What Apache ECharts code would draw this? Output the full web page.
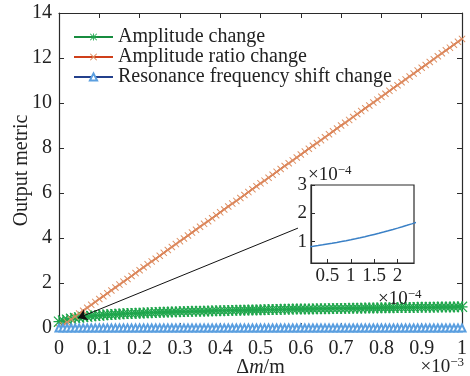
<!DOCTYPE html>
<html>
<head>
<meta charset="utf-8">
<script src="https://cdn.jsdelivr.net/npm/echarts@6/dist/echarts.min.js"></script>
<style>
  html, body { margin: 0; padding: 0; background: #fff; }
  #chart { width: 470px; height: 376px; }
</style>
</head>
<body>
<div id="chart"></div>
<script>
// delta m, in units of 1e-3
const dm = [
  0, 0.01, 0.02, 0.03, 0.04, 0.05, 0.06, 0.07, 0.08, 0.09,
  0.1, 0.11, 0.12, 0.13, 0.14, 0.15, 0.16, 0.17, 0.18, 0.19,
  0.2, 0.21, 0.22, 0.23, 0.24, 0.25, 0.26, 0.27, 0.28, 0.29,
  0.3, 0.31, 0.32, 0.33, 0.34, 0.35, 0.36, 0.37, 0.38, 0.39,
  0.4, 0.41, 0.42, 0.43, 0.44, 0.45, 0.46, 0.47, 0.48, 0.49,
  0.5, 0.51, 0.52, 0.53, 0.54, 0.55, 0.56, 0.57, 0.58, 0.59,
  0.6, 0.61, 0.62, 0.63, 0.64, 0.65, 0.66, 0.67, 0.68, 0.69,
  0.7, 0.71, 0.72, 0.73, 0.74, 0.75, 0.76, 0.77, 0.78, 0.79,
  0.8, 0.81, 0.82, 0.83, 0.84, 0.85, 0.86, 0.87, 0.88, 0.89,
  0.9, 0.91, 0.92, 0.93, 0.94, 0.95, 0.96, 0.97, 0.98, 0.99,
  1
];

const amplitudeChange = [
  0.28, 0.33, 0.37, 0.41, 0.44, 0.47, 0.49, 0.51, 0.53, 0.55,
  0.56, 0.58, 0.59, 0.60, 0.61, 0.62, 0.63, 0.64, 0.65, 0.66,
  0.66, 0.67, 0.68, 0.68, 0.69, 0.70, 0.70, 0.71, 0.71, 0.72,
  0.72, 0.73, 0.73, 0.74, 0.74, 0.75, 0.75, 0.76, 0.76, 0.77,
  0.77, 0.77, 0.78, 0.78, 0.79, 0.79, 0.79, 0.80, 0.80, 0.80,
  0.81, 0.81, 0.82, 0.82, 0.82, 0.83, 0.83, 0.83, 0.84, 0.84,
  0.84, 0.85, 0.85, 0.85, 0.86, 0.86, 0.86, 0.86, 0.87, 0.87,
  0.87, 0.87, 0.88, 0.88, 0.88, 0.88, 0.89, 0.89, 0.89, 0.89,
  0.90, 0.90, 0.90, 0.90, 0.91, 0.91, 0.91, 0.91, 0.91, 0.92,
  0.92, 0.92, 0.92, 0.92, 0.93, 0.93, 0.93, 0.93, 0.93, 0.94,
  0.94
];

const amplitudeRatioChange = [
  0, 0.13, 0.26, 0.39, 0.51, 0.64, 0.77, 0.90, 1.03, 1.16,
  1.29, 1.41, 1.54, 1.67, 1.80, 1.93, 2.06, 2.18, 2.31, 2.44,
  2.57, 2.70, 2.83, 2.96, 3.08, 3.21, 3.34, 3.47, 3.60, 3.73,
  3.86, 3.98, 4.11, 4.24, 4.37, 4.50, 4.63, 4.75, 4.88, 5.01,
  5.14, 5.27, 5.40, 5.53, 5.65, 5.78, 5.91, 6.04, 6.17, 6.30,
  6.43, 6.55, 6.68, 6.81, 6.94, 7.07, 7.20, 7.32, 7.45, 7.58,
  7.71, 7.84, 7.97, 8.10, 8.22, 8.35, 8.48, 8.61, 8.74, 8.87,
  9.00, 9.12, 9.25, 9.38, 9.51, 9.64, 9.77, 9.89, 10.02, 10.15,
  10.28, 10.41, 10.54, 10.67, 10.79, 10.92, 11.05, 11.18, 11.31, 11.44,
  11.57, 11.69, 11.82, 11.95, 12.08, 12.21, 12.34, 12.46, 12.59, 12.72,
  12.85
];

const resonanceShiftChange = [
  0.800e-4, 0.821e-4, 0.843e-4, 0.866e-4, 0.891e-4, 0.918e-4, 0.945e-4, 0.974e-4, 1.005e-4, 1.037e-4,
  1.070e-4, 1.105e-4, 1.141e-4, 1.178e-4, 1.217e-4, 1.258e-4, 1.299e-4, 1.342e-4, 1.387e-4, 1.433e-4,
  1.480e-4, 1.529e-4, 1.579e-4, 1.630e-4, 1.683e-4, 1.738e-4, 1.793e-4, 1.850e-4, 1.909e-4, 1.969e-4,
  2.030e-4, 2.093e-4, 2.157e-4, 2.222e-4, 2.289e-4, 2.358e-4, 2.427e-4, 2.498e-4, 2.571e-4, 2.645e-4,
  2.720e-4, 2.797e-4, 2.875e-4, 2.954e-4, 3.035e-4, 3.118e-4, 3.201e-4, 3.286e-4, 3.373e-4, 3.461e-4,
  3.550e-4, 3.641e-4, 3.733e-4, 3.826e-4, 3.921e-4, 4.018e-4, 4.115e-4, 4.214e-4, 4.315e-4, 4.417e-4,
  4.520e-4, 4.625e-4, 4.731e-4, 4.838e-4, 4.947e-4, 5.058e-4, 5.169e-4, 5.282e-4, 5.397e-4, 5.513e-4,
  5.630e-4, 5.749e-4, 5.869e-4, 5.990e-4, 6.113e-4, 6.238e-4, 6.363e-4, 6.490e-4, 6.619e-4, 6.749e-4,
  6.880e-4, 7.013e-4, 7.147e-4, 7.282e-4, 7.419e-4, 7.558e-4, 7.697e-4, 7.838e-4, 7.981e-4, 8.125e-4,
  8.270e-4, 8.417e-4, 8.565e-4, 8.714e-4, 8.865e-4, 9.018e-4, 9.171e-4, 9.326e-4, 9.483e-4, 9.641e-4,
  9.800e-4
];

const seriesNames = ["Amplitude change", "Amplitude ratio change", "Resonance frequency shift change"];
const insetXTicks = [0.05, 0.1, 0.15, 0.2];
const insetYTicks = [1e-4, 2e-4, 3e-4];
// arrow from the inset down to the origin region (data coords)
const arrowFrom = [0.593, 4.44];
const arrowTo = [0.047, 0.44];

const chart = echarts.init(document.getElementById("chart"), null, { renderer: "canvas" });

const FONT = "Liberation Serif";
const AXIS = "#2b2b2b";
const TXT = "#222";

const pairs = (ys) => dm.map((x, i) => [x, ys[i]]);

const starPath =
  "path://M4.4,0h1.2v10h-1.2z M0,4.4h10v1.2h-10z M0.8,0L10,9.2L9.2,10L0,0.8z M9.2,0L10,0.8L0.8,10L0,9.2z";
const crossPath = "path://M0,1L1,0L5,4L9,0L10,1L6,5L10,9L9,10L5,6L1,10L0,9L4,5Z";

const boxAxis = (extra) =>
  Object.assign(
    {
      axisLine: { show: true, onZero: false, lineStyle: { color: AXIS, width: 1.2 } },
      axisTick: { show: true, inside: true, length: 5, lineStyle: { color: AXIS } },
      splitLine: { show: false },
    },
    extra
  );

const supText = (exp) => ({
  text: "{b|×10}{s|" + exp + "}",
  rich: {
    b: { fontFamily: FONT, fontSize: 19, fill: TXT },
    s: { fontFamily: FONT, fontSize: 13, fill: TXT, padding: [0, 0, 10, 0] },
  },
});

const option = {
  animation: false,
  backgroundColor: "#fff",
  textStyle: { fontFamily: FONT },
  grid: [
    { left: 59, right: 8, top: 13, bottom: 48, containLabel: false, outerBoundsMode: "none" },
    {
      left: 311, top: 185, width: 103, height: 78, containLabel: false, outerBoundsMode: "none",
      show: true, backgroundColor: "#fff", borderColor: AXIS, borderWidth: 1.2,
    },
  ],
  legend: {
    orient: "vertical",
    left: 68,
    top: 22,
    itemWidth: 39,
    itemHeight: 9,
    itemGap: 0,
    data: seriesNames,
    textStyle: { fontFamily: FONT, fontSize: 20, color: TXT, lineHeight: 20 },
  },
  xAxis: [
    boxAxis({
      type: "value", gridIndex: 0, min: 0, max: 1, interval: 0.1,
      axisLabel: { fontFamily: FONT, fontSize: 20, color: TXT, margin: 11 },
      name: "{n|Δ}{i|m}{n|/m}",
      nameLocation: "middle",
      nameGap: 30,
      nameMoveOverlap: false,
      nameTextStyle: {
        rich: {
          n: { fontFamily: FONT, fontSize: 20, color: TXT },
          i: { fontFamily: FONT, fontSize: 20, color: TXT, fontStyle: "italic" },
        },
      },
    }),
    boxAxis({
      type: "value", gridIndex: 0, position: "top", min: 0, max: 1, interval: 0.1,
      axisLabel: { show: false },
    }),
    boxAxis({
      type: "value", gridIndex: 1, min: 0.015, max: 0.235,
      axisTick: { show: true, inside: true, length: 4, lineStyle: { color: AXIS }, customValues: insetXTicks },
      axisLabel: {
        fontFamily: FONT, fontSize: 19, color: TXT, margin: 4,
        customValues: insetXTicks,
        formatter: (v) => String(Math.round(v * 100) / 10),
      },
    }),
  ],
  yAxis: [
    boxAxis({
      type: "value", gridIndex: 0, min: 0, max: 14, interval: 2,
      axisLabel: { fontFamily: FONT, fontSize: 20, color: TXT, margin: 7 },
      name: "Output metric",
      nameLocation: "middle",
      nameGap: 27,
      nameMoveOverlap: false,
      nameTextStyle: { fontFamily: FONT, fontSize: 20, color: TXT },
    }),
    boxAxis({
      type: "value", gridIndex: 0, position: "right", min: 0, max: 14, interval: 2,
      axisLabel: { show: false },
    }),
    boxAxis({
      type: "value", gridIndex: 1, min: 0.25e-4, max: 3e-4,
      axisTick: { show: true, inside: true, length: 4, lineStyle: { color: AXIS }, customValues: insetYTicks },
      axisLabel: {
        fontFamily: FONT, fontSize: 19, color: TXT, margin: 4,
        customValues: insetYTicks,
        formatter: (v) => String(Math.round(v * 1e4)),
      },
    }),
  ],
  series: [
    {
      name: seriesNames[0],
      type: "line",
      xAxisIndex: 0, yAxisIndex: 0,
      data: pairs(amplitudeChange),
      symbol: starPath,
      symbolSize: 11,
      clip: false,
      itemStyle: { color: "#1fa64c" },
      lineStyle: { color: "#178c3f", width: 1.2 },
    },
    {
      name: seriesNames[1],
      type: "line",
      xAxisIndex: 0, yAxisIndex: 0,
      data: pairs(amplitudeRatioChange),
      symbol: crossPath,
      symbolSize: 7,
      clip: false,
      itemStyle: { color: "#dd8f62" },
      lineStyle: { color: "#cf3f1a", width: 1.6 },
    },
    {
      name: seriesNames[2],
      type: "line",
      xAxisIndex: 0, yAxisIndex: 0,
      data: pairs(resonanceShiftChange),
      symbol: "emptyTriangle",
      symbolSize: 7,
      clip: false,
      itemStyle: { color: "#5b9fe0", borderWidth: 1 },
      lineStyle: { color: "#23408c", width: 1.5 },
    },
    {
      type: "lines",
      coordinateSystem: "cartesian2d",
      xAxisIndex: 0, yAxisIndex: 0,
      symbol: ["none", "arrow"],
      symbolSize: 9,
      lineStyle: { color: "#111", width: 1, opacity: 1 },
      data: [{ coords: [arrowFrom, arrowTo] }],
      z: 5,
    },
    {
      type: "line",
      xAxisIndex: 2, yAxisIndex: 2,
      data: pairs(resonanceShiftChange),
      showSymbol: false,
      lineStyle: { color: "#3a80c6", width: 1.5 },
      z: 10,
    },
  ],
  graphic: [
    { type: "text", left: 308, top: 164, z: 20, style: supText("−4") },
    { type: "text", left: 378, top: 288, z: 20, style: supText("−4") },
    { type: "text", right: 6, top: 356, z: 20, style: supText("−3") },
  ],
};

chart.setOption(option);
</script>
</body>
</html>
